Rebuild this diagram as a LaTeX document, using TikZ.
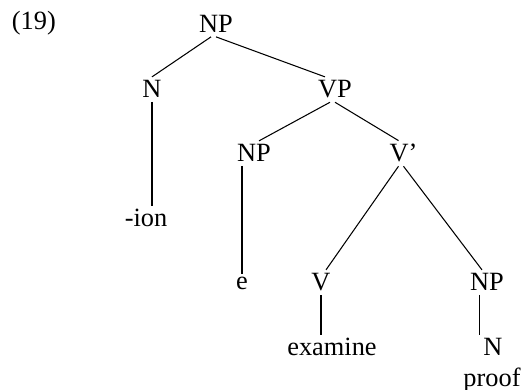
\documentclass[tikz,border=0pt]{standalone}
\usepackage{fontspec}
\setmainfont{Liberation Serif}
\usetikzlibrary{calc, positioning}
\tikzset{
    label/.style = {
        inner sep=2pt, anchor=base, font=\fontsize{15}{18}\selectfont
    },
    branch/.style = {
        line width=0.6pt
    },
}
\begin{document}
\begin{tikzpicture}
        \useasboundingbox (0,0) rectangle (10.5,-7.8);

        % Place the labels
        \node [label, anchor=base west] (ex) at (0.16,-0.60) {(19)};
        \node [label] (np) at (4.32,-0.66) {NP};
        \node [label] (n) at (3.04,-1.96) {N};
        \node [label] (vp) at (6.70,-1.96) {VP};
        \node [label] (npe) at (5.08,-3.24) {NP};
        \node [label] (vbar) at (8.07,-3.24) {V’};
        \node [label] (ion) at (2.92,-4.54) {-ion};
        \node [label] (e) at (4.84,-5.80) {e};
        \node [label] (v) at (6.42,-5.82) {V};
        \node [label] (npobj) at (9.74,-5.82) {NP};
        \node [label] (examine) at (6.64,-7.12) {examine};
        \node [label] (nobj) at (9.86,-7.12) {N};
        \node [label] (proof) at (9.84,-7.74) {proof};

        % Draw branches
        \begin{scope}[branch]
            \draw ([xshift=-1mm]np.south) -- (n.north);
            \draw (np.south) -- ([xshift=-2mm]vp.north);
            \draw ([xshift=-1mm]vp.south) -- ([xshift=1mm]npe.north);
            \draw (vp.south) -- ([xshift=-1mm]vbar.north);
            \draw ([xshift=-1mm]vbar.south) -- ([xshift=1mm]v.north);
            \draw (vbar.south) -- ([xshift=-1mm]npobj.north);
            \draw (n.south) -- (n.south |- ion.north);
            \draw (npe.south -| e) -- (e.north);
            \draw (v.south) -- (v.south |- examine.north);
            \draw (nobj.north west |- npobj.south) -- (nobj.north west);
        \end{scope}
    \end{tikzpicture}
\end{document}
